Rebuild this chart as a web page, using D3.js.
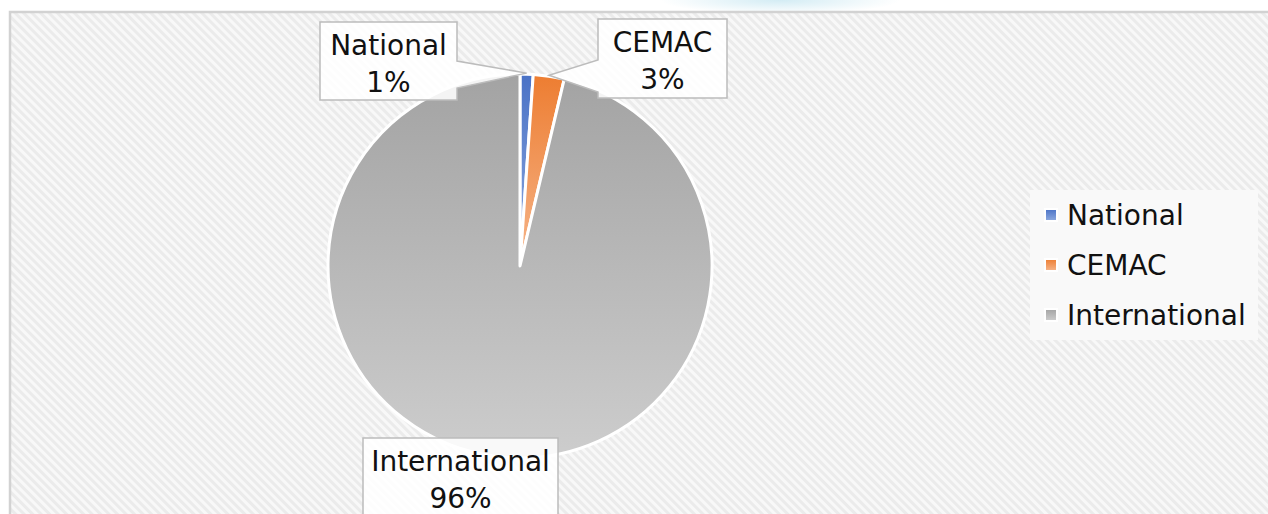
<!DOCTYPE html>
<html>
<head>
<meta charset="utf-8">
<script src="https://cdn.jsdelivr.net/npm/d3@7.9.0/dist/d3.min.js"></script>
<style>
  body { margin: 0; background: #fff; }
  svg { display: block; font-family: "DejaVu Sans", sans-serif; }
</style>
</head>
<body>
<svg id="chart" width="1268" height="514"></svg>
<script>
// data
const categories = ['National', 'CEMAC', 'International'];
const shares = [1.1, 2.6, 96.3];
const colorsTop = ['#4a72c6', '#ed7d31', '#a3a3a3'];
const colorsBottom = ['#8eaadf', '#f6b58a', '#cdcdcd'];

// callout boxes (x, y, w, h) and where the pointer meets the box edge
const callouts = [
  { box: [320, 22, 137, 78], side: 'right', base: [61, 88] },
  { box: [598, 19, 129, 79], side: 'left', base: [60, 92] },
  { box: [363, 438, 195, 90], side: 'none', base: [] }
];

const W = 1268, H = 514;
const cx = 520, cy = 266, r = 192;

const svg = d3.select('#chart');
const defs = svg.append('defs');

// hatched background
let pat = defs.append('pattern')
  .attr('id', 'hatch')
  .attr('width', 6).attr('height', 6)
  .attr('patternUnits', 'userSpaceOnUse')
  .attr('patternTransform', 'rotate(-45)');
pat.append('rect').attr('width', 6).attr('height', 6).attr('fill', '#f8f8f8');
pat.append('rect').attr('width', 3).attr('height', 6).attr('fill', '#ebebeb');

// soft blue glow at the very top
let glow = defs.append('radialGradient').attr('id', 'glow');
glow.append('stop').attr('offset', '0%').attr('stop-color', '#d3ecf4');
glow.append('stop').attr('offset', '100%').attr('stop-color', '#ffffff');

categories.forEach((c, i) => {
  let g = defs.append('linearGradient')
    .attr('id', 'grad' + i)
    .attr('x1', 0).attr('y1', 0).attr('x2', 0).attr('y2', 1);
  g.append('stop').attr('offset', '0%').attr('stop-color', colorsTop[i]);
  g.append('stop').attr('offset', '100%').attr('stop-color', colorsBottom[i]);
});

svg.append('ellipse')
  .attr('cx', 780).attr('cy', 0).attr('rx', 120).attr('ry', 14)
  .attr('fill', 'url(#glow)');

svg.append('rect')
  .attr('x', 10).attr('y', 12)
  .attr('width', W).attr('height', H)
  .attr('fill', 'url(#hatch)')
  .attr('stroke', '#d2d2d2').attr('stroke-width', 2.5);

// pie
let data = categories.map((c, i) => ({ label: c, value: shares[i] }));
let total = d3.sum(shares);
let pct = d3.format('.0%');

let pie = d3.pie().sort(null).value(d => d.value);
let arc = d3.arc().innerRadius(0).outerRadius(r);
let arcs = pie(data);

let pieG = svg.append('g').attr('transform', `translate(${cx},${cy})`);
pieG.selectAll('path')
  .data(arcs)
  .enter()
  .append('path')
  .attr('d', arc)
  .attr('fill', (d, i) => `url(#grad${i})`)
  .attr('stroke', '#fff')
  .attr('stroke-width', 3)
  .attr('stroke-linejoin', 'round');

// callout labels with wedge pointer
function calloutPath(c, tip) {
  let [x, y, w, h] = c.box;
  let [b0, b1] = c.base;
  if (c.side === 'right') {
    return `M${x},${y}H${x + w}V${b0}L${tip[0]},${tip[1]}L${x + w},${b1}V${y + h}H${x}Z`;
  }
  if (c.side === 'left') {
    return `M${x},${y}H${x + w}V${y + h}H${x}V${b1}L${tip[0]},${tip[1]}L${x},${b0}Z`;
  }
  return `M${x},${y}H${x + w}V${y + h}H${x}Z`;
}

let labelG = svg.append('g');
arcs.forEach((d, i) => {
  let mid = (d.startAngle + d.endAngle) / 2;
  let tip = [cx + Math.sin(mid) * (r + 1), cy - Math.cos(mid) * (r + 1)];
  let c = callouts[i];
  let [x, y, w, h] = c.box;
  labelG.append('path')
    .attr('d', calloutPath(c, tip))
    .attr('fill', 'rgba(255,255,255,0.88)')
    .attr('stroke', '#bcbcbc')
    .attr('stroke-width', 1.5);
  let t = labelG.append('text')
    .attr('text-anchor', 'middle')
    .attr('font-size', 28)
    .attr('fill', '#111');
  t.append('tspan').attr('x', x + w / 2).attr('y', y + 33).text(d.data.label);
  t.append('tspan').attr('x', x + w / 2).attr('y', y + 70).text(pct(d.data.value / total));
});

// legend
let legend = svg.append('g').attr('transform', 'translate(1030,190)');
legend.append('rect')
  .attr('width', 228).attr('height', 150)
  .attr('fill', '#f9f9f9');

let rows = legend.selectAll('g.row')
  .data(data)
  .enter()
  .append('g')
  .attr('class', 'row')
  .attr('transform', (d, i) => `translate(0,${25 + i * 50})`);

rows.append('rect')
  .attr('x', 15).attr('y', -6)
  .attr('width', 12).attr('height', 12)
  .attr('fill', (d, i) => `url(#grad${i})`)
  .attr('stroke', '#fff').attr('stroke-width', 2);

rows.append('text')
  .attr('x', 37).attr('y', 10)
  .attr('font-size', 28)
  .attr('fill', '#111')
  .text(d => d.label);
</script>
</body>
</html>
